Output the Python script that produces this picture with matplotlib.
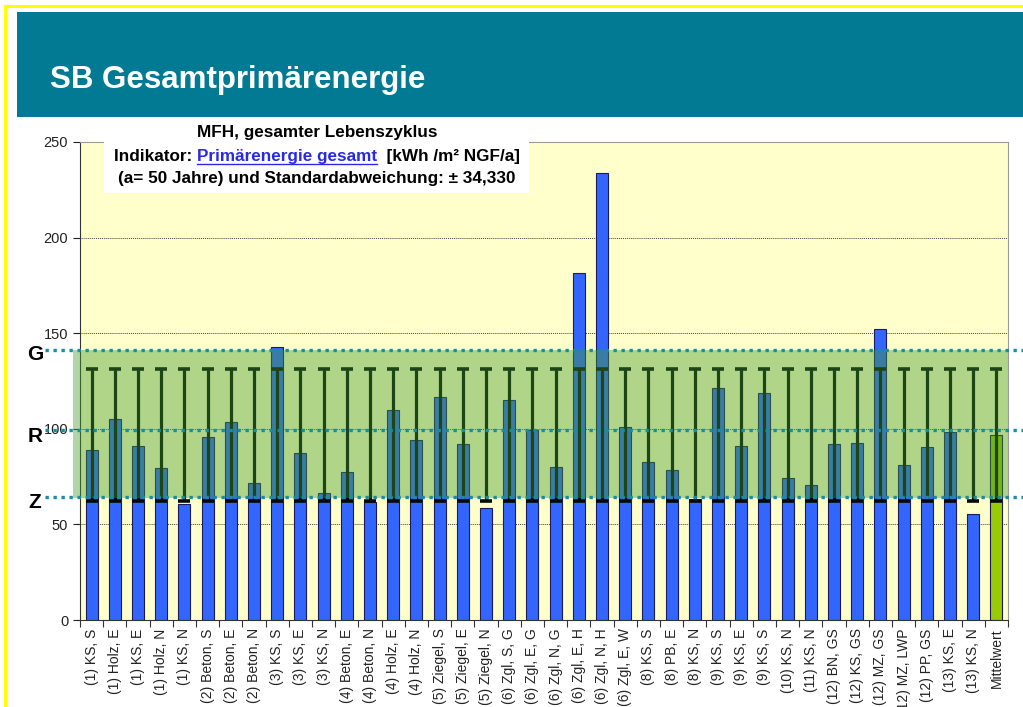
import numpy as np
import matplotlib
matplotlib.use("Agg")
import matplotlib.pyplot as plt
from matplotlib.patches import Rectangle
from matplotlib.lines import Line2D
from matplotlib.transforms import blended_transform_factory

plt.rcParams['font.family'] = ['Liberation Sans', 'DejaVu Sans']

# ---- data -------------------------------------------------------------
categories = [
    "(1) KS, S", "(1) Holz, E", "(1) KS, E", "(1) Holz, N", "(1) KS, N",
    "(2) Beton, S", "(2) Beton, E", "(2) Beton, N", "(3) KS, S", "(3) KS, E",
    "(3) KS, N", "(4) Beton, E", "(4) Beton, N", "(4) Holz, E", "(4) Holz, N",
    "(5) Ziegel, S", "(5) Ziegel, E", "(5) Ziegel, N", "(6) Zgl, S, G",
    "(6) Zgl, E, G", "(6) Zgl, N, G", "(6) Zgl, E, H", "(6) Zgl, N, H",
    "(6) Zgl, E, W", "(8) KS, S", "(8) PB, E", "(8) KS, N", "(9) KS, S",
    "(9) KS, E", "(9) KS, S", "(10) KS, N", "(11) KS, N", "(12) BN, GS",
    "(12) KS, GS", "(12) MZ, GS", "(12) MZ, LWP", "(12) PP, GS", "(13) KS, E",
    "(13) KS, N", "Mittelwert",
]
values = [
    88.9, 105.3, 91.0, 79.3, 60.8,
    95.7, 103.7, 71.5, 143.0, 87.2,
    66.4, 77.2, 61.7, 109.7, 94.0,
    116.6, 91.9, 58.6, 115.1,
    99.4, 79.9, 181.3, 233.6,
    100.8, 82.8, 78.5, 63.1, 121.2,
    91.0, 118.6, 74.1, 70.6, 91.9,
    92.7, 152.0, 81.1, 90.6, 98.5,
    55.3, 96.8,
]
mean_value = 96.8
std_dev = 34.330
level_names = ["G", "R", "Z"]
level_values = [141.2, 99.4, 64.3]
band_range = (64.0, 141.2)
y_ticks = [0, 50, 100, 150, 200, 250]

# ---- figure -----------------------------------------------------------
W, H = 1023, 707
fig = plt.figure(figsize=(W / 100, H / 100), dpi=100)
fig.patch.set_facecolor("white")


def fx(px):
    return px / W


def fy(py):
    return 1 - py / H


# slide header and frame
fig.add_artist(Rectangle((fx(17), fy(117)), 1.0, fy(12) - fy(117),
                         facecolor="#037A93", edgecolor="none",
                         transform=fig.transFigure, zorder=-1))
fig.add_artist(Line2D([fx(5), fx(5)], [0, fy(6)], color="#FFFF00", lw=2.2,
                      transform=fig.transFigure, zorder=-1))
fig.add_artist(Line2D([fx(5), 1], [fy(6), fy(6)], color="#FFFF00", lw=2.2,
                      transform=fig.transFigure, zorder=-1))
fig.text(fx(50), fy(88), "SB Gesamtprimärenergie", color="white",
         fontsize=22.5, weight="bold", ha="left", va="baseline")

# ---- chart ------------------------------------------------------------
ax = fig.add_axes([fx(80), fy(620), fx(1008) - fx(80), fy(142) - fy(620)])
ax.set_facecolor("#FFFFCC")

n = len(categories)
x = np.arange(n)
bar_colors = ["#3366FF"] * (n - 1) + ["#99CC00"]
ax.bar(x, values, width=0.52, color=bar_colors, edgecolor="#1A1A60",
       linewidth=0.8, zorder=2)
ax.errorbar(x, [mean_value] * n, yerr=std_dev, fmt="none", ecolor="#050805",
            elinewidth=2.3, capsize=4.3, capthick=2.6, zorder=3)

ax.set_xlim(-0.5, n - 0.5)
ax.set_ylim(0, 250)
ax.set_yticks(y_ticks)
ax.tick_params(axis="y", labelsize=10.5, length=5, colors="#222222")
ax.set_xticks(np.arange(n + 1) - 0.5)
ax.set_xticklabels([])
ax.tick_params(axis="x", which="major", length=5, color="#333333")
ax.set_xticks(x, minor=True)
ax.set_xticklabels(categories, minor=True, rotation=90, fontsize=10,
                   color="#222222")
ax.tick_params(axis="x", which="minor", length=0, pad=6)

ax.set_axisbelow(True)
ax.yaxis.grid(True, linestyle=(0, (1, 1)), color="#444444", linewidth=0.7)
for side in ("top", "right"):
    ax.spines[side].set_color("#9A9A9A")
for side in ("left", "bottom"):
    ax.spines[side].set_color("#333333")

# green target band over the bars
band_tr = blended_transform_factory(ax.transAxes, ax.transData)
ax.add_patch(Rectangle((-7 / 928, band_range[0]), 1 + 7 / 928,
                       band_range[1] - band_range[0], transform=band_tr,
                       facecolor=(67 / 255, 155 / 255, 44 / 255), alpha=0.42,
                       edgecolor="none", zorder=4, clip_on=False))

# dotted level lines spanning the slide
line_tr = blended_transform_factory(fig.transFigure, ax.transData)
label_px = {"G": 355, "R": 437, "Z": 502}
for name, lv in zip(level_names, level_values):
    fig.add_artist(Line2D([fx(45), 1.0], [lv, lv], transform=line_tr,
                          color="#1A8C9C", lw=2.4, linestyle=(0, (1, 1.4)),
                          zorder=5))
    fig.text(fx(35), fy(label_px[name]), name, ha="center", va="center",
             fontsize=15, weight="bold", color="black", zorder=6)

# chart caption box
fig.add_artist(Rectangle((fx(104), fy(193)), fx(529) - fx(104),
                         fy(119) - fy(193), facecolor="white",
                         edgecolor="none", transform=fig.transFigure,
                         zorder=5))
cx = 317
cap_size = 12.3
fig.text(fx(cx), fy(133), "MFH, gesamter Lebenszyklus", ha="center",
         va="center", fontsize=cap_size, weight="bold", zorder=6)
fig.text(fx(cx), fy(179), "(a= 50 Jahre) und Standardabweichung: ± 34,330",
         ha="center", va="center", fontsize=cap_size, weight="bold", zorder=6)

renderer = fig.canvas.get_renderer()
parts = [("Indikator: ", "black"), ("Primärenergie gesamt", "#2A2AE6"),
         ("  [kWh /m² NGF/a]", "black")]
texts = [fig.text(0, fy(161), s, color=c, fontsize=cap_size, weight="bold",
                  ha="left", va="baseline", zorder=6) for s, c in parts]
widths = [t.get_window_extent(renderer).width for t in texts]
start = cx - sum(widths) / 2
pos = start
for t, w in zip(texts, widths):
    t.set_position((fx(pos), fy(161)))
    pos += w
u0 = start + widths[0]
fig.add_artist(Line2D([fx(u0), fx(u0 + widths[1])], [fy(163.5), fy(163.5)],
                      color="#2A2AE6", lw=1.0, transform=fig.transFigure,
                      zorder=6))

fig.savefig("out.png", dpi=100)
